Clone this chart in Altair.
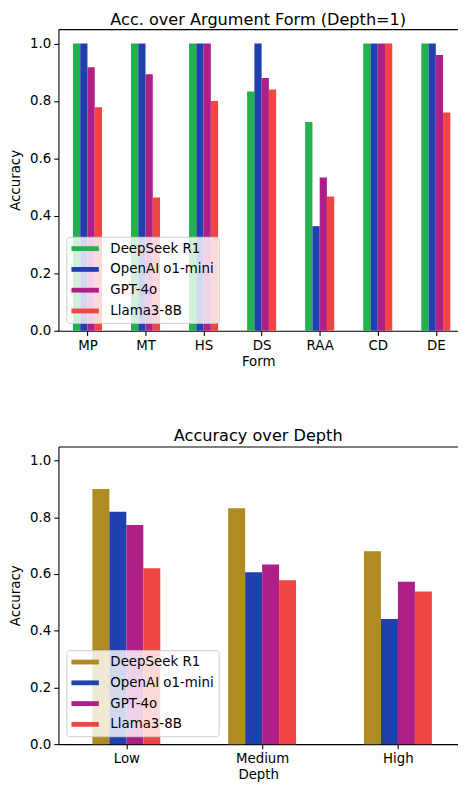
import json
import altair as alt
import pandas as pd

# ---------------- data ----------------
models = ["DeepSeek R1", "OpenAI o1-mini", "GPT-4o", "Llama3-8B"]

forms = ["MP", "MT", "HS", "DS", "RAA", "CD", "DE"]
form_deepseek = [1.0, 1.0, 1.0, 0.833, 0.727, 1.0, 1.0]
form_o1mini = [1.0, 1.0, 1.0, 1.0, 0.364, 1.0, 1.0]
form_gpt4o = [0.917, 0.893, 1.0, 0.88, 0.533, 1.0, 0.96]
form_llama = [0.778, 0.464, 0.8, 0.84, 0.467, 1.0, 0.76]

depths = ["Low", "Medium", "High"]
depth_deepseek = [0.9, 0.832, 0.68]
depth_o1mini = [0.82, 0.606, 0.441]
depth_gpt4o = [0.773, 0.634, 0.573]
depth_llama = [0.62, 0.578, 0.538]

form_colors = ["#22b14c", "#1f40ad", "#af1f88", "#f04545"]
depth_colors = ["#b08b21", "#1f40ad", "#af1f88", "#f04545"]

FONT = "DejaVu Sans"
TICK_FS = 13.5
TITLE_FS = 16.3
W = 404


def make_df(cats, series):
    rows = []
    for k, (m, vals) in enumerate(zip(models, series)):
        for i, (c, v) in enumerate(zip(cats, vals)):
            rows.append({"cat": c, "idx": i, "model": m, "k": k, "acc": v})
    return pd.DataFrame(rows)


def panel(df, cats, colors, title, xtitle, step_px, H, title_offset):
    n_span = W / step_px
    dom = [-0.5, -0.5 + n_span]
    label_expr = json.dumps(cats) + "[round(datum.value)]"
    base = alt.Chart(df).transform_calculate(
        x0="datum.idx + (datum.k - 2) * 0.125",
        x1="datum.idx + (datum.k - 1) * 0.125",
        base="0",
    )
    xscale = alt.Scale(domain=dom, nice=False, zero=False)
    yscale = alt.Scale(domain=[0, 1.05], nice=False)
    bars = base.mark_bar(opacity=1).encode(
        x=alt.X(
            "x0:Q",
            scale=xscale,
            axis=alt.Axis(
                values=list(range(len(cats))),
                labelExpr=label_expr,
                title=xtitle,
                grid=False,
                tickSize=4.7,
                labelPadding=3,
                titlePadding=3,
                labelFontSize=TICK_FS,
                titleFontSize=TICK_FS,
                labelFont=FONT,
                titleFont=FONT,
                domainColor="black",
                tickColor="black",
                domainWidth=1.1,
                tickWidth=1.1,
            ),
        ),
        x2="x1:Q",
        y=alt.Y(
            "acc:Q",
            scale=yscale,
            axis=alt.Axis(
                values=[0, 0.2, 0.4, 0.6, 0.8, 1.0],
                format=".1f",
                title="Accuracy",
                grid=False,
                tickSize=4.7,
                labelPadding=3,
                titlePadding=7,
                labelFontSize=TICK_FS,
                titleFontSize=TICK_FS,
                labelFont=FONT,
                titleFont=FONT,
                domainColor="black",
                tickColor="black",
                domainWidth=1.1,
                tickWidth=1.1,
            ),
        ),
        y2="base:Q",
        color=alt.Color(
            "model:N",
            scale=alt.Scale(domain=models, range=colors),
            sort=models,
            legend=alt.Legend(
                title=None,
                orient="bottom-left",
                offset=8,
                fillColor="rgba(255,255,255,0.8)",
                strokeColor="#cccccc",
                cornerRadius=3,
                padding=5,
                rowPadding=7,
                labelFontSize=TICK_FS,
                labelFont=FONT,
                labelColor="black",
                labelOffset=18.5,
                symbolType="M-2,-0.35L2,-0.35L2,0.35L-2,0.35Z",
                symbolSize=192,
                symbolStrokeWidth=0,
                symbolOpacity=1,
                symbolOffset=7,
            ),
        ),
    )
    top_spine = base.mark_bar(opacity=0).encode(
        x=alt.X(
            "x0:Q",
            scale=xscale,
            axis=alt.Axis(
                orient="top",
                labels=False,
                ticks=False,
                title="",
                grid=False,
                domainColor="black",
                domainWidth=1.1,
                minExtent=0,
                maxExtent=0,
                offset=0,
            ),
        ),
        x2="x1:Q",
        y=alt.Y("acc:Q", scale=yscale),
        y2="base:Q",
    )
    return (
        alt.layer(bars, top_spine)
        .resolve_axis(x="independent")
        .properties(
            width=W,
            height=H,
            title=alt.TitleParams(title, fontSize=TITLE_FS, font=FONT,
                                  fontWeight="normal", color="black",
                                  offset=title_offset),
        )
    )


df_form = make_df(forms, [form_deepseek, form_o1mini, form_gpt4o, form_llama])
df_depth = make_df(depths, [depth_deepseek, depth_o1mini, depth_gpt4o, depth_llama])

top = panel(df_form, forms, form_colors, "Acc. over Argument Form (Depth=1)",
            "Form", 58.7, 305, 1)
bottom = panel(df_depth, depths, depth_colors, "Accuracy over Depth",
               "Depth", 137.3, 301, 2)

chart = (
    alt.vconcat(top, bottom, spacing=60)
    .resolve_scale(color="independent")
    .properties(padding={"left": 0, "right": 0, "top": -1, "bottom": 0})
    .configure_view(stroke=None)
    .configure_axis(
        labelFont=FONT,
        titleFont=FONT,
        labelFontSize=TICK_FS,
        titleFontSize=TICK_FS,
        labelColor="black",
        titleColor="black",
        titleFontWeight="normal",
    )
)

chart.save("out.html", embed_options={"renderer": "svg", "actions": False})
